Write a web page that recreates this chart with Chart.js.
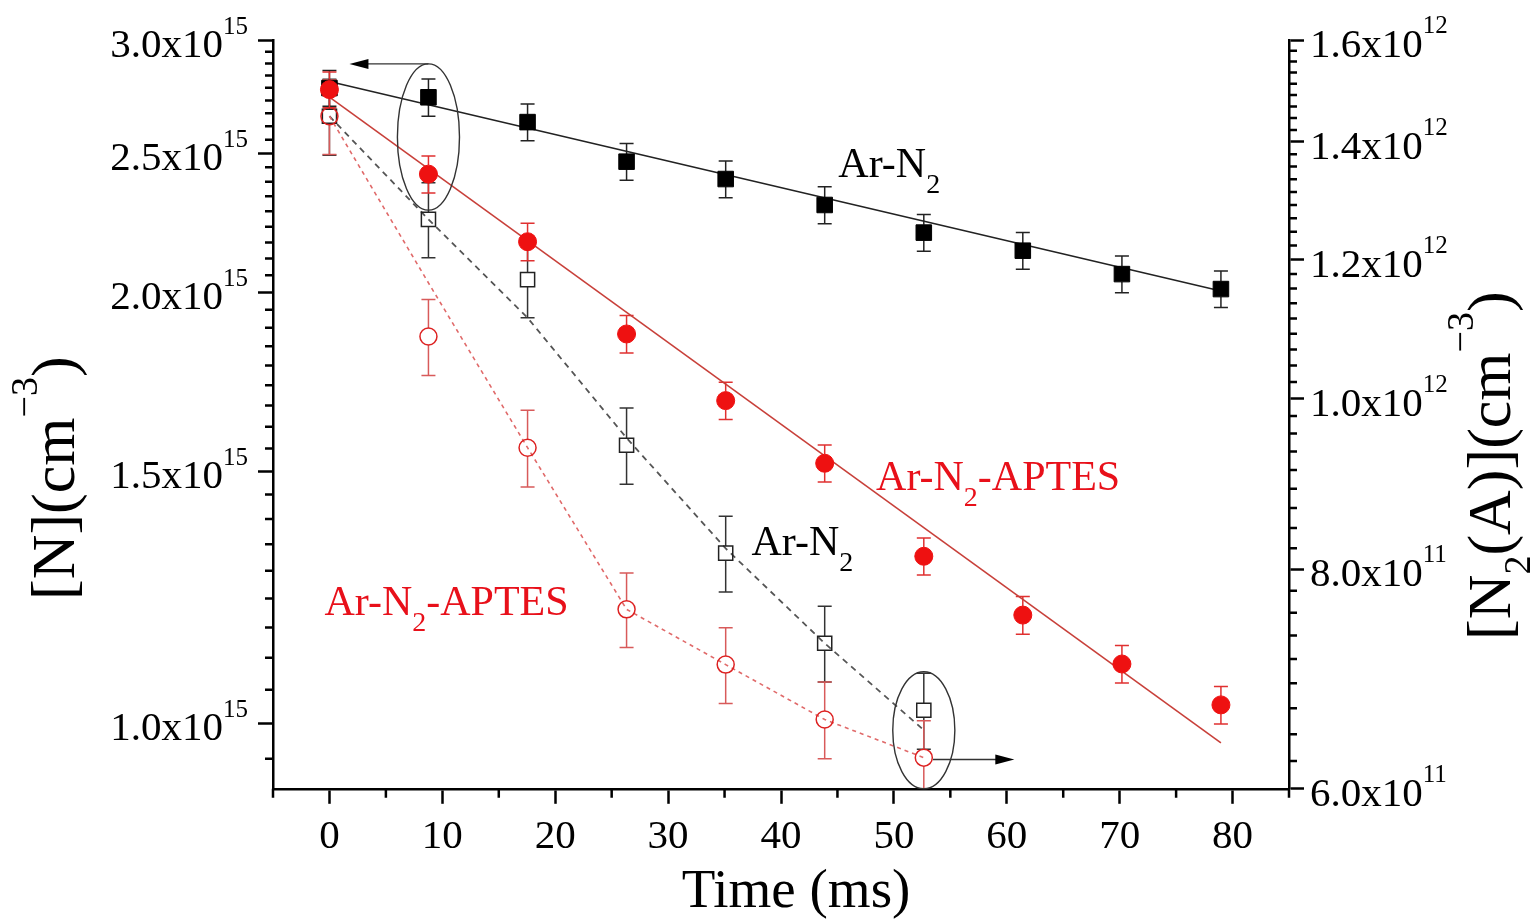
<!DOCTYPE html>
<html>
<head>
<meta charset="utf-8">
<script src="https://cdn.jsdelivr.net/npm/chart.js@4.4.0/dist/chart.umd.min.js"></script>
<style>
  html, body { margin: 0; padding: 0; background: #fff; }
  #wrap { width: 1538px; height: 922px; }
</style>
</head>
<body>
<div id="wrap"><canvas id="myChart" width="1538" height="922"></canvas></div>
<script>
const FONT = "'Liberation Serif', 'Times New Roman', serif";

// time (ms)
const times = [0, 8.77, 17.55, 26.32, 35.1, 43.87, 52.65, 61.42, 70.2, 78.97];
const timesA = [0, 8.77, 17.55, 26.32, 35.1, 43.87, 52.65];

// [N] (cm-3), left axis
const nArN2 = [2.777e15, 2.736e15, 2.629e15, 2.467e15, 2.399e15, 2.301e15, 2.201e15, 2.138e15, 2.059e15, 2.010e15];
const nArN2Err = [0.080e15, 0.082e15, 0.078e15, 0.073e15, 0.071e15, 0.068e15, 0.065e15, 0.063e15, 0.061e15, 0.059e15];
const nAptes = [2.770e15, 2.418e15, 2.169e15, 1.870e15, 1.680e15, 1.519e15, 1.308e15, 1.190e15, 1.100e15, 1.030e15];
const nAptesErr = [0.080e15, 0.072e15, 0.065e15, 0.056e15, 0.050e15, 0.045e15, 0.039e15, 0.036e15, 0.033e15, 0.031e15];

// exponential fits (straight on the log axis)
const fitTimes = [0, 78.97];
const fitArN2 = [2.806e15, 2.004e15];
const fitAptes = [2.737e15, 0.969e15];

// [N2(A)] (cm-3), right axis
const aArN2 = [1.448e12, 1.265e12, 1.169e12, 0.941e12, 0.817e12, 0.726e12, 0.665e12];
const aArN2Err = [0.072e12, 0.062e12, 0.057e12, 0.047e12, 0.0405e12, 0.036e12, 0.033e12];
const aAptes = [1.448e12, 1.085e12, 0.938e12, 0.759e12, 0.706e12, 0.657e12, 0.625e12];
const aAptesErr = [0.071e12, 0.054e12, 0.047e12, 0.037e12, 0.035e12, 0.033e12, 0.031e12];

// dashed guide curves for [N2(A)]
const curveArN2 = [1.448e12, 1.265e12, 1.112e12, 0.950e12, 0.822e12, 0.726e12, 0.648e12];
const curveAptes = [1.448e12, 1.164e12, 0.938e12, 0.759e12, 0.706e12, 0.657e12, 0.625e12];

// ticks
const xTicks = [0, 10, 20, 30, 40, 50, 60, 70, 80];
const leftTicks = [1.0e15, 1.5e15, 2.0e15, 2.5e15, 3.0e15];
const rightTicks = [0.6e12, 0.8e12, 1.0e12, 1.2e12, 1.4e12, 1.6e12];

// annotations (data coordinates)
const notes = [
  { x: 45.08, y: 2.4075e15, axis: "y", color: "#000", parts: [["Ar-N", 0], ["2", 1]] },
  { x: 48.42, y: 1.455e15, axis: "y", color: "#e8101a", parts: [["Ar-N", 0], ["2", 1], ["-APTES", 0]] },
  { x: 37.38, y: 0.8149e12, axis: "y2", color: "#000", parts: [["Ar-N", 0], ["2", 1]] },
  { x: -0.44, y: 0.7535e12, axis: "y2", color: "#e8101a", parts: [["Ar-N", 0], ["2", 1], ["-APTES", 0]] },
];
const ellipses = [
  { x: 8.77, dx: 2.75, top: 2.887e15, bot: 2.282e15, axis: "y" },
  { x: 52.65, dx: 2.75, top: 0.6994e12, bot: 0.6e12, axis: "y2" },
];
const arrows = [
  { from: 8.77, to: 1.77, y: 2.887e15, axis: "y" },
  { from: 53.46, to: 60.67, y: 0.6235e12, axis: "y2" },
];

const pts = (xs, ys) => xs.map((x, i) => ({ x: x, y: ys[i] }));

function sci(v) {
  const e = Math.floor(Math.log10(v) + 1e-9);
  return [(v / Math.pow(10, e)).toFixed(1) + "x10", String(e)];
}

// text with sub (1) / superscript (2) parts
function drawRich(ctx, parts, x, y, size, small, subShift, supShift) {
  let cx = x;
  parts.forEach(([t, k]) => {
    ctx.font = (k ? small : size) + "px " + FONT;
    const dy = k === 1 ? subShift : k === 2 ? -supShift : 0;
    ctx.fillText(t, cx, y + dy);
    cx += ctx.measureText(t).width;
  });
}

const errorBars = {
  id: "errorBars",
  beforeDatasetsDraw(chart) {
    const ctx = chart.ctx;
    const a = chart.chartArea;
    const xs = chart.scales.x;
    ctx.save();
    ctx.beginPath();
    ctx.rect(a.left, a.top - 20, a.right - a.left, a.bottom - a.top + 20);
    ctx.clip();
    chart.data.datasets.forEach((ds) => {
      if (!ds.errors) return;
      const ys = chart.scales[ds.yAxisID];
      const gap = ds.pointStyle === "rect" ? ds.pointRadius * Math.SQRT1_2 : ds.pointRadius;
      ctx.strokeStyle = ds.errColor;
      ctx.lineWidth = 1.5;
      ds.data.forEach((p, j) => {
        const px = xs.getPixelForValue(p.x);
        const py = ys.getPixelForValue(p.y);
        const top = ys.getPixelForValue(p.y + ds.errors[j]);
        const bot = ys.getPixelForValue(p.y - ds.errors[j]);
        ctx.beginPath();
        ctx.moveTo(px, top);
        ctx.lineTo(px, py - gap);
        ctx.moveTo(px, py + gap);
        ctx.lineTo(px, bot);
        ctx.moveTo(px - 7, top);
        ctx.lineTo(px + 7, top);
        ctx.moveTo(px - 7, bot);
        ctx.lineTo(px + 7, bot);
        ctx.stroke();
      });
    });
    ctx.restore();
  },
};

function minorsBetween(ticks, min, max) {
  const out = [];
  for (let i = 0; i < ticks.length - 1; i++) {
    const step = (ticks[i + 1] - ticks[i]) / 9;
    for (let k = 1; k < 9; k++) out.push(ticks[i] + k * step);
  }
  const step0 = (ticks[1] - ticks[0]) / 9;
  for (let v = ticks[0] - step0; v >= min; v -= step0) out.push(v);
  return out.filter((v) => v >= min && v <= max);
}

const axisDecor = {
  id: "axisDecor",
  afterDraw(chart) {
    const ctx = chart.ctx;
    const { x, y, y2 } = chart.scales;
    const a = chart.chartArea;
    ctx.save();

    // minor ticks
    ctx.strokeStyle = "#000";
    ctx.lineWidth = 2.5;
    ctx.beginPath();
    for (let v = -5; v <= 85; v += 10) {
      const px = x.getPixelForValue(v);
      ctx.moveTo(px, a.bottom);
      ctx.lineTo(px, a.bottom + 9);
    }
    minorsBetween(leftTicks, 0.9e15, 3.0e15).forEach((v) => {
      const py = y.getPixelForValue(v);
      ctx.moveTo(a.left, py);
      ctx.lineTo(a.left - 8, py);
    });
    minorsBetween(rightTicks, 0.6e12, 1.6e12).forEach((v) => {
      const py = y2.getPixelForValue(v);
      ctx.moveTo(a.right, py);
      ctx.lineTo(a.right + 8, py);
    });
    ctx.stroke();

    // tick labels
    ctx.fillStyle = "#000";
    ctx.textBaseline = "alphabetic";
    ctx.textAlign = "center";
    ctx.font = "41px " + FONT;
    xTicks.forEach((v) => ctx.fillText(String(v), x.getPixelForValue(v), 848));
    ctx.textAlign = "left";
    leftTicks.forEach((v) => {
      const py = y.getPixelForValue(v);
      const [m, e] = sci(v);
      ctx.font = "25px " + FONT;
      const ew = ctx.measureText(e).width;
      ctx.font = "41px " + FONT;
      const mw = ctx.measureText(m).width;
      const right = a.left - 25;
      ctx.fillText(m, right - ew - mw, py + 17);
      ctx.font = "25px " + FONT;
      ctx.fillText(e, right - ew, py - 6);
    });
    rightTicks.forEach((v) => {
      const py = y2.getPixelForValue(v);
      const [m, e] = sci(v);
      ctx.font = "41px " + FONT;
      const mw = ctx.measureText(m).width;
      ctx.fillText(m, a.right + 21, py + 17);
      ctx.font = "25px " + FONT;
      ctx.fillText(e, a.right + 21 + mw, py - 7);
    });

    // axis titles
    ctx.font = "55px " + FONT;
    ctx.textAlign = "center";
    ctx.fillText("Time (ms)", 796, 907);
    ctx.textAlign = "left";
    ctx.save();
    ctx.translate(74, 600);
    ctx.rotate(-Math.PI / 2);
    drawRich(ctx, [["[N](cm", 0], ["\u22123", 2], [")", 0]], 0, 0, 62, 38, 20, 37);
    ctx.restore();
    ctx.save();
    ctx.translate(1510, 640);
    ctx.rotate(-Math.PI / 2);
    drawRich(ctx, [["[N", 0], ["2", 1], ["(A)](cm", 0], ["\u22123", 2], [")", 0]], 0, 0, 62, 38, 20, 37);
    ctx.restore();

    // ellipses + arrows
    ctx.strokeStyle = "#333";
    ctx.fillStyle = "#000";
    ctx.lineWidth = 1.4;
    ellipses.forEach((el) => {
      const ys = chart.scales[el.axis];
      const cx = x.getPixelForValue(el.x);
      const rx = x.getPixelForValue(el.x + el.dx) - cx;
      const t = ys.getPixelForValue(el.top);
      const b = ys.getPixelForValue(el.bot);
      ctx.beginPath();
      ctx.ellipse(cx, (t + b) / 2, rx, (b - t) / 2, 0, 0, Math.PI * 2);
      ctx.stroke();
    });
    arrows.forEach((ar) => {
      const ys = chart.scales[ar.axis];
      const x0 = x.getPixelForValue(ar.from);
      const x1 = x.getPixelForValue(ar.to);
      const py = ys.getPixelForValue(ar.y);
      const dir = x1 > x0 ? 1 : -1;
      ctx.beginPath();
      ctx.moveTo(x0, py);
      ctx.lineTo(x1 - dir * 14, py);
      ctx.stroke();
      ctx.beginPath();
      ctx.moveTo(x1, py);
      ctx.lineTo(x1 - dir * 19, py - 5);
      ctx.lineTo(x1 - dir * 19, py + 5);
      ctx.closePath();
      ctx.fill();
    });

    // series labels
    notes.forEach((n) => {
      const ys = chart.scales[n.axis];
      ctx.fillStyle = n.color;
      drawRich(ctx, n.parts, x.getPixelForValue(n.x), ys.getPixelForValue(n.y), 42, 28, 16, 0);
    });

    ctx.restore();
  },
};

const axisLine = { display: true, color: "#000", width: 2.5 };
const majorGrid = { drawOnChartArea: false, drawTicks: true, tickLength: 15, tickWidth: 2.5, tickColor: "#000", color: "#000" };
const noLabels = { callback: () => "", autoSkip: false, padding: 0 };

const ctx = document.getElementById("myChart");
new Chart(ctx, {
  type: "scatter",
  data: {
    datasets: [
      {
        label: "Ar-N2 fit", data: pts(fitTimes, fitArN2), yAxisID: "y",
        showLine: true, borderColor: "#222", borderWidth: 1.6, pointRadius: 0, order: 8,
      },
      {
        label: "Ar-N2-APTES fit", data: pts(fitTimes, fitAptes), yAxisID: "y",
        showLine: true, borderColor: "#c8403a", borderWidth: 1.6, pointRadius: 0, order: 7,
      },
      {
        label: "N2(A) Ar-N2 curve", data: pts(timesA, curveArN2), yAxisID: "y2",
        showLine: true, borderColor: "#555", borderWidth: 1.8, borderDash: [6, 5], pointRadius: 0, order: 6,
      },
      {
        label: "N2(A) Ar-N2-APTES curve", data: pts(timesA, curveAptes), yAxisID: "y2",
        showLine: true, borderColor: "#e06a6a", borderWidth: 1.6, borderDash: [4, 4], pointRadius: 0, order: 5,
      },
      {
        label: "N2(A) Ar-N2", data: pts(timesA, aArN2), yAxisID: "y2",
        pointStyle: "rect", pointRadius: 10, pointBorderColor: "#222",
        pointBackgroundColor: "rgba(0,0,0,0)", pointBorderWidth: 1.5,
        errors: aArN2Err, errColor: "#333", order: 4,
      },
      {
        label: "N2(A) Ar-N2-APTES", data: pts(timesA, aAptes), yAxisID: "y2",
        pointStyle: "circle", pointRadius: 8.5, pointBorderColor: "#dd2222",
        pointBackgroundColor: "rgba(0,0,0,0)", pointBorderWidth: 1.5,
        errors: aAptesErr, errColor: "#d85a5a", order: 3,
      },
      {
        label: "N Ar-N2", data: pts(times, nArN2), yAxisID: "y",
        pointStyle: "rect", pointRadius: 11, pointBackgroundColor: "#000", pointBorderColor: "#000",
        pointBorderWidth: 1, errors: nArN2Err, errColor: "#222", order: 2,
      },
      {
        label: "N Ar-N2-APTES", data: pts(times, nAptes), yAxisID: "y",
        pointStyle: "circle", pointRadius: 9, pointBackgroundColor: "#ee1111", pointBorderColor: "#ee1111",
        pointBorderWidth: 1, errors: nAptesErr, errColor: "#e03030", order: 1,
      },
    ],
  },
  options: {
    responsive: false,
    animation: false,
    devicePixelRatio: 1,
    layout: { padding: { top: 40, left: 0, right: 0, bottom: 0 } },
    plugins: { legend: { display: false }, tooltip: { enabled: false } },
    scales: {
      x: {
        type: "linear", position: "bottom", min: -5, max: 85,
        afterBuildTicks: (s) => { s.ticks = xTicks.map((v) => ({ value: v })); },
        afterFit: (s) => { s.height = 133.2; },
        grid: majorGrid, border: axisLine, ticks: noLabels,
      },
      y: {
        type: "logarithmic", position: "left", min: 0.9e15, max: 3.0e15,
        afterBuildTicks: (s) => { s.ticks = leftTicks.map((v) => ({ value: v })); },
        afterFit: (s) => { s.width = 273; },
        grid: majorGrid, border: axisLine, ticks: noLabels,
      },
      y2: {
        type: "logarithmic", position: "right", min: 0.6e12, max: 1.6e12,
        afterBuildTicks: (s) => { s.ticks = rightTicks.map((v) => ({ value: v })); },
        afterFit: (s) => { s.width = 249; },
        grid: majorGrid, border: axisLine, ticks: noLabels,
      },
    },
  },
  plugins: [errorBars, axisDecor],
});
</script>
</body>
</html>
